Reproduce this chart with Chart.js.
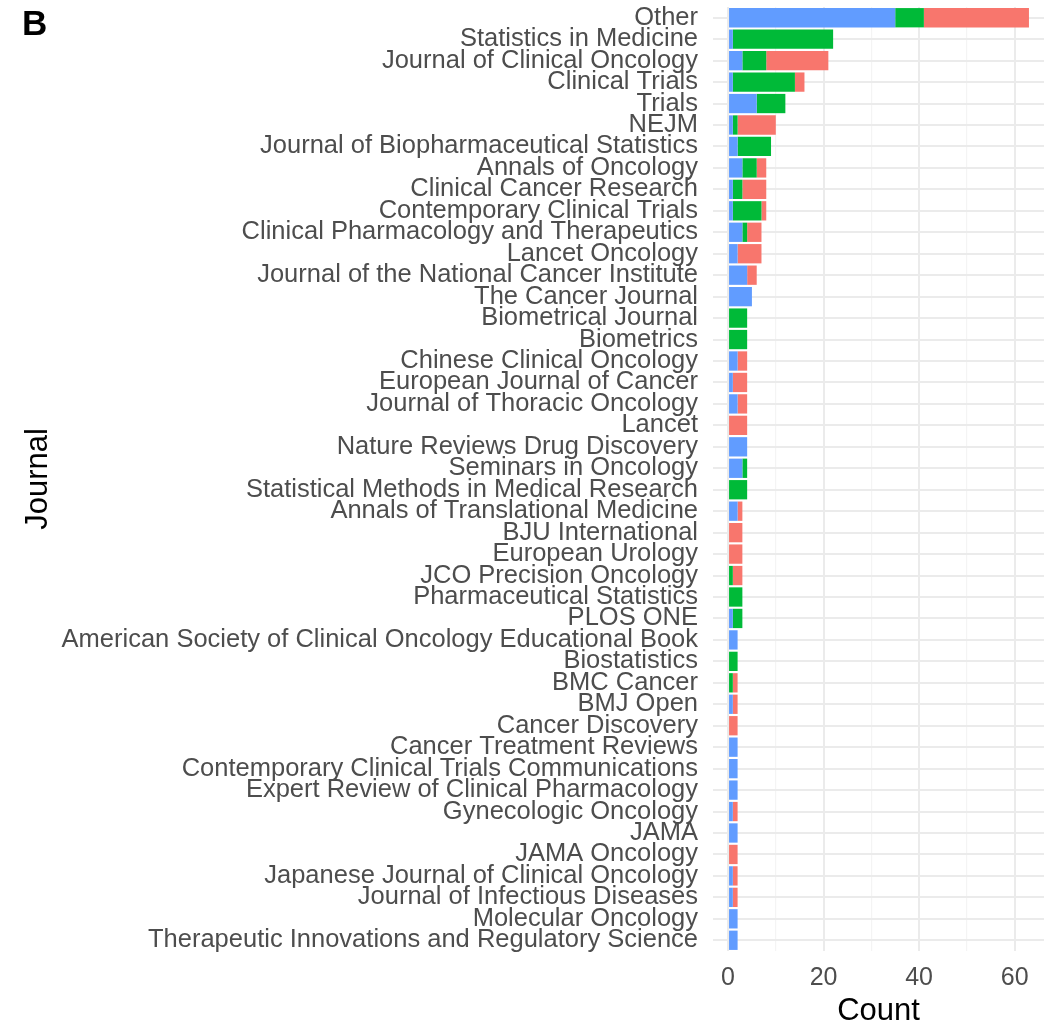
<!DOCTYPE html>
<html>
<head>
<meta charset="utf-8">
<title>Journal counts</title>
<script src="https://cdn.jsdelivr.net/npm/chart.js@4/dist/chart.umd.min.js"></script>
<style>
    html, body { margin: 0; padding: 0; background: #fff; }
    #wrap { position: relative; width: 1056px; height: 1027px; }
    #panel-tag {
        position: absolute; left: 22px; top: 5px;
        font: bold 35px/35px "Liberation Sans", Arial, sans-serif;
        color: #000;
    }
</style>
</head>
<body>
<div id="wrap">
    <canvas id="journal-chart" width="1056" height="1027"></canvas>
    <div id="panel-tag">B</div>
</div>
<script>
'use strict';
// ---------- Publications per journal, stacked by group ----------

const journals = [
    'Other', 'Statistics in Medicine', 'Journal of Clinical Oncology', 'Clinical Trials', 'Trials',
    'NEJM', 'Journal of Biopharmaceutical Statistics', 'Annals of Oncology', 'Clinical Cancer Research',
    'Contemporary Clinical Trials', 'Clinical Pharmacology and Therapeutics', 'Lancet Oncology',
    'Journal of the National Cancer Institute', 'The Cancer Journal', 'Biometrical Journal', 'Biometrics',
    'Chinese Clinical Oncology', 'European Journal of Cancer', 'Journal of Thoracic Oncology', 'Lancet',
    'Nature Reviews Drug Discovery', 'Seminars in Oncology', 'Statistical Methods in Medical Research',
    'Annals of Translational Medicine', 'BJU International', 'European Urology', 'JCO Precision Oncology',
    'Pharmaceutical Statistics', 'PLOS ONE', 'American Society of Clinical Oncology Educational Book',
    'Biostatistics', 'BMC Cancer', 'BMJ Open', 'Cancer Discovery', 'Cancer Treatment Reviews',
    'Contemporary Clinical Trials Communications', 'Expert Review of Clinical Pharmacology',
    'Gynecologic Oncology', 'JAMA', 'JAMA Oncology', 'Japanese Journal of Clinical Oncology',
    'Journal of Infectious Diseases', 'Molecular Oncology', 'Therapeutic Innovations and Regulatory Science',
];

// one value per journal, same order as above
const blueCounts  = [35, 1, 3, 1, 6, 1, 2, 3, 1, 1, 3, 2, 4, 5, 0, 0, 2, 1, 2, 0, 4, 3,
                     0, 2, 0, 0, 0, 0, 1, 2, 0, 0, 1, 0, 2, 2, 2, 1, 2, 0, 1, 1, 2, 2];
const greenCounts = [ 6, 21, 5, 13, 6, 1, 7, 3, 2, 6, 1, 0, 0, 0, 4, 4, 0, 0, 0, 0, 0, 1,
                      4, 0, 0, 0, 1, 3, 2, 0, 2, 1, 0, 0, 0, 0, 0, 0, 0, 0, 0, 0, 0, 0];
const redCounts   = [22, 0, 13, 2, 0, 8, 0, 2, 5, 1, 3, 5, 2, 0, 0, 0, 2, 3, 2, 4, 0, 0,
                      0, 1, 3, 3, 2, 0, 0, 0, 0, 1, 1, 2, 0, 0, 0, 1, 0, 2, 1, 1, 0, 0];

const countTicks = [0, 10, 20, 30, 40, 50, 60];
const countLabelled = [0, 20, 40, 60];

const FONT = '"Liberation Sans", Arial, sans-serif';
const GRID_MAJOR = '#EBEBEB';
const GRID_MINOR = '#F4F4F4';

function barSet(label, data, color) {
    return {
        label,
        data,
        backgroundColor: color,
        borderWidth: 0,
        barPercentage: 0.9,
        categoryPercentage: 1.0,
    };
}

new Chart(document.getElementById('journal-chart'), {
    type: 'bar',
    data: {
        labels: journals,
        datasets: [
            barSet('blue',  blueCounts,  '#619CFF'),
            barSet('green', greenCounts, '#00BA38'),
            barSet('red',   redCounts,   '#F8766D'),
        ],
    },
    options: {
        indexAxis: 'y',
        responsive: false,
        animation: false,
        layout: { padding: { left: 0, right: 12, top: 7, bottom: 0 } },
        plugins: {
            legend: { display: false },
            tooltip: { enabled: false },
        },
        scales: {
            x: {
                stacked: true,
                min: -3.15,
                max: 66.15,
                afterBuildTicks: s => { s.ticks = countTicks.map(v => ({ value: v })); },
                afterFit: s => { s.height = 76; },
                border: { display: false },
                grid: {
                    drawTicks: false,
                    color: ctx => countLabelled.includes(ctx.tick.value) ? GRID_MAJOR : GRID_MINOR,
                    lineWidth: ctx => countLabelled.includes(ctx.tick.value) ? 2 : 1.2,
                },
                ticks: {
                    padding: 12,
                    color: '#4D4D4D',
                    font: { family: FONT, size: 25 },
                    maxRotation: 0,
                    callback: v => countLabelled.includes(v) ? String(v) : '',
                },
                title: {
                    display: true,
                    text: 'Count',
                    color: '#000',
                    font: { family: FONT, size: 31 },
                    padding: { top: 0, bottom: -3 },
                },
            },
            y: {
                stacked: true,
                // fixed width, and no extra room for the first/last label
                afterFit: s => { s.width = 713; s.paddingTop = 0; s.paddingBottom = 0; },
                border: { display: false },
                grid: {
                    offset: false,
                    drawTicks: false,
                    color: GRID_MAJOR,
                    lineWidth: 2,
                },
                ticks: {
                    autoSkip: false,
                    padding: 15,
                    color: '#4D4D4D',
                    font: { family: FONT, size: 25.5 },
                },
                title: {
                    display: true,
                    text: 'Journal',
                    color: '#000',
                    font: { family: FONT, size: 31 },
                    padding: { top: 20, bottom: 0 },
                },
            },
        },
    },
});
</script>
</body>
</html>
